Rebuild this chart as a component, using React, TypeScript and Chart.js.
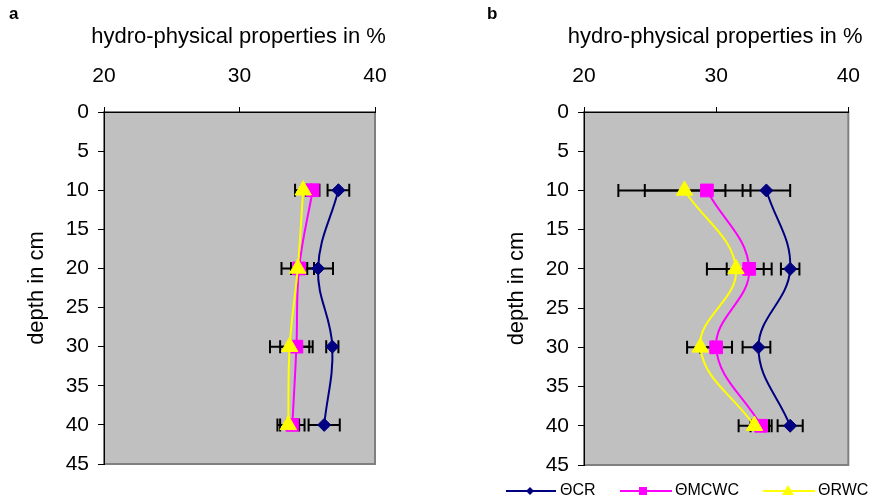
import React, { useEffect, useRef } from "react";
import { Chart, registerables } from "chart.js";

Chart.register(...registerables);

// ---------- data ----------
const depths = [10, 20, 30, 40];
const xTickValues = [20, 30, 40];
const seriesNames = ["ΘCR", "ΘMCWC", "ΘRWC"];
const xTitle = "hydro-physical properties in %";
const yTitle = "depth in cm";

// panel a
const aCR = [37.3, 35.8, 36.85, 36.25];
const aCRLo = [36.5, 34.7, 36.4, 35.1];
const aCRHi = [38.1, 36.9, 37.3, 37.4];
const aMCWC = [35.4, 34.4, 34.2, 33.9];
const aMCWCLo = [34.9, 33.8, 33.0, 33.0];
const aMCWCHi = [35.9, 35.0, 35.4, 34.8];
const aRWC = [34.7, 34.3, 33.7, 33.6];
const aRWCLo = [34.1, 33.1, 32.25, 32.8];
const aRWCHi = [35.3, 35.5, 35.15, 34.4];

// panel b
const bCR = [33.8, 35.6, 33.2, 35.6];
const bCRLo = [32.0, 34.9, 32.0, 34.65];
const bCRHi = [35.6, 36.3, 34.1, 36.55];
const bMCWC = [29.3, 32.5, 30.0, 33.4];
const bMCWCLo = [24.6, 30.8, 28.8, 32.6];
const bMCWCHi = [30.7, 34.2, 31.2, 34.2];
const bRWC = [27.6, 31.5, 28.8, 32.9];
const bRWCLo = [22.6, 29.3, 27.8, 31.7];
const bRWCHi = [32.6, 33.6, 29.75, 34.0];

// ---------- styles ----------
const FONT = "'Liberation Sans', Arial, sans-serif";
const colors = ["#000080", "#FF00FF", "#FFFF00"];
const pointStyles = ["rectRot", "rect", "triangle"];
const pointRadii = [6.5, 9, 9.5];
const drawOrder = [2, 1, 0];

const bgPlugin = {
  id: "plotBg",
  beforeDraw(chart: any) {
    const { ctx, chartArea: a } = chart;
    ctx.save();
    ctx.fillStyle = "#C0C0C0";
    ctx.fillRect(a.left, a.top, a.right - a.left, a.bottom - a.top);
    ctx.strokeStyle = "#808080";
    ctx.lineWidth = 2;
    ctx.strokeRect(a.left, a.top, a.right - a.left, a.bottom - a.top);
    ctx.restore();
  },
};

const errPlugin = {
  id: "errBars",
  beforeDatasetsDraw(chart: any, _args: any, opts: any) {
    const { ctx } = chart;
    const xs = chart.scales.x;
    const ys = chart.scales.y;
    const bars = opts.bars || [];
    ctx.save();
    ctx.strokeStyle = "#000";
    ctx.lineWidth = 2;
    bars.forEach((b: any) => {
      b.y.forEach((yv: number, i: number) => {
        const y = ys.getPixelForValue(yv);
        const x1 = xs.getPixelForValue(b.lo[i]);
        const x2 = xs.getPixelForValue(b.hi[i]);
        ctx.beginPath();
        ctx.moveTo(x1, y);
        ctx.lineTo(x2, y);
        ctx.moveTo(x1, y - 6.5);
        ctx.lineTo(x1, y + 6.5);
        ctx.moveTo(x2, y - 6.5);
        ctx.lineTo(x2, y + 6.5);
        ctx.stroke();
      });
    });
    ctx.restore();
  },
};

const labelPlugin = {
  id: "panelLabel",
  afterDraw(chart: any, _args: any, opts: any) {
    const { ctx, chartArea: a } = chart;
    ctx.save();
    ctx.fillStyle = "#000";
    ctx.font = `bold 17px ${FONT}`;
    ctx.textBaseline = "middle";
    ctx.textAlign = "left";
    ctx.fillText(opts.text, opts.x, opts.y);
    // x axis title (drawn here so it is not squeezed to the axis width)
    ctx.font = `22px ${FONT}`;
    ctx.textAlign = "center";
    ctx.fillText(xTitle, (a.left + a.right) / 2 - 1, 37);
    ctx.textAlign = "left";
    if (opts.legend) {
      const items = [
        { lx: 26, rx: 76, mx: 50, tx: 80 },
        { lx: 140, rx: 192, mx: 163, tx: 195 },
        { lx: 283, rx: 335, mx: 308, tx: 338 },
      ];
      const ly = 491;
      items.forEach((it, i) => {
        ctx.strokeStyle = colors[i];
        ctx.lineWidth = 2;
        ctx.beginPath();
        ctx.moveTo(it.lx, ly);
        ctx.lineTo(it.rx, ly);
        ctx.stroke();
        ctx.fillStyle = colors[i];
        ctx.beginPath();
        if (i === 0) {
          ctx.moveTo(it.mx, ly - 4);
          ctx.lineTo(it.mx + 4, ly);
          ctx.lineTo(it.mx, ly + 4);
          ctx.lineTo(it.mx - 4, ly);
          ctx.closePath();
        } else if (i === 1) {
          ctx.rect(it.mx - 4, ly - 4, 8, 8);
        } else {
          ctx.moveTo(it.mx, ly - 6);
          ctx.lineTo(it.mx + 6, ly + 4);
          ctx.lineTo(it.mx - 6, ly + 4);
          ctx.closePath();
        }
        ctx.fill();
        ctx.fillStyle = "#000";
        ctx.font = `16px ${FONT}`;
        ctx.fillText(seriesNames[i], it.tx, ly);
      });
    }
    ctx.restore();
  },
};

function makeConfig(
  vals: number[][],
  los: number[][],
  his: number[][],
  padRight: number,
  padBottom: number,
  letter: string,
  letterX: number,
  legend: boolean
): any {
  const datasets = vals.map((v, s) => ({
    label: seriesNames[s],
    data: v.map((x, i) => ({ x, y: depths[i] })),
    order: drawOrder[s],
    showLine: true,
    borderColor: colors[s],
    backgroundColor: colors[s],
    borderWidth: 2,
    tension: 0.4,
    pointStyle: pointStyles[s],
    pointRadius: pointRadii[s],
    pointBorderWidth: 1,
    pointBorderColor: colors[s],
    pointBackgroundColor: colors[s],
  }));
  return {
    type: "scatter",
    data: { datasets },
    plugins: [bgPlugin, errPlugin, labelPlugin],
    options: {
      animation: false,
      responsive: false,
      devicePixelRatio: 1,
      layout: { padding: { left: 0, top: 0, right: padRight, bottom: padBottom } },
      plugins: {
        legend: { display: false },
        tooltip: { enabled: false },
        errBars: {
          bars: vals.map((_v, s) => ({ y: depths, lo: los[s], hi: his[s] })),
        },
        panelLabel: { text: letter, x: letterX, y: 14, legend },
      },
      scales: {
        x: {
          type: "linear",
          position: "top",
          min: 20,
          max: 40,
          afterFit: (sc: any) => {
            sc.height = 112;
          },
          afterBuildTicks: (sc: any) => {
            sc.ticks = xTickValues.map((v) => ({ value: v }));
          },
          ticks: {
            color: "#000",
            font: { family: FONT, size: 21 },
            padding: 18,
            maxRotation: 0,
          },
          grid: {
            drawOnChartArea: false,
            drawTicks: true,
            tickLength: 5,
            color: "#000",
            lineWidth: 1,
          },
          border: { display: true, color: "#000", width: 1 },
          title: { display: false },
        },
        y: {
          type: "linear",
          position: "left",
          reverse: true,
          min: 0,
          max: 45,
          afterFit: (sc: any) => {
            sc.width = 104;
          },
          ticks: {
            stepSize: 5,
            color: "#000",
            font: { family: FONT, size: 21 },
            padding: 9,
          },
          grid: {
            drawOnChartArea: false,
            drawTicks: true,
            tickLength: 6,
            color: "#000",
            lineWidth: 1,
          },
          border: { display: true, color: "#000", width: 1 },
          title: {
            display: true,
            text: yTitle,
            color: "#000",
            font: { family: FONT, size: 22 },
            padding: { top: 24, bottom: 0 },
          },
        },
      },
    },
  };
}

export default function App() {
  const refA = useRef<HTMLCanvasElement>(null);
  const refB = useRef<HTMLCanvasElement>(null);

  useEffect(() => {
    const cA = new Chart(
      refA.current as HTMLCanvasElement,
      makeConfig(
        [aCR, aMCWC, aRWC],
        [aCRLo, aMCWCLo, aRWCLo],
        [aCRHi, aMCWCHi, aRWCHi],
        65,
        39,
        "a",
        9,
        false
      )
    );
    const cB = new Chart(
      refB.current as HTMLCanvasElement,
      makeConfig(
        [bCR, bMCWC, bRWC],
        [bCRLo, bMCWCLo, bRWCLo],
        [bCRHi, bMCWCHi, bRWCHi],
        18,
        38,
        "b",
        7,
        true
      )
    );
    return () => {
      cA.destroy();
      cB.destroy();
    };
  }, []);

  return (
    <div style={{ position: "absolute", left: 0, top: 0, width: 878, height: 503, background: "#fff" }}>
      <canvas ref={refA} width={440} height={503} style={{ position: "absolute", left: 0, top: 0 }} />
      <canvas ref={refB} width={398} height={503} style={{ position: "absolute", left: 480, top: 0 }} />
    </div>
  );
}
